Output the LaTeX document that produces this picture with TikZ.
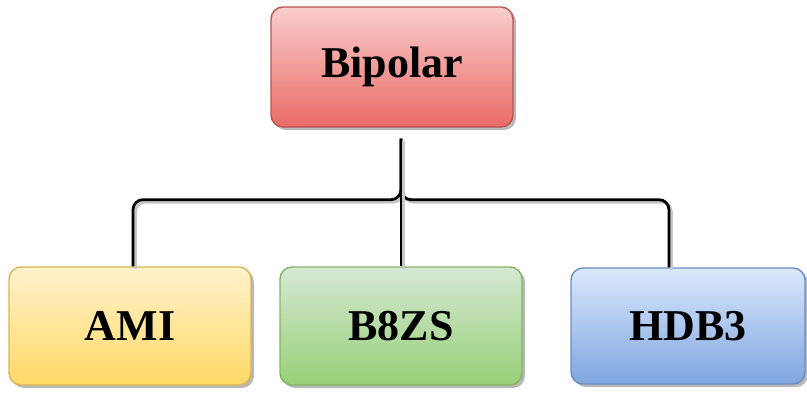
\documentclass[tikz,border=0pt]{standalone}
\usepackage{fontspec}
\setmainfont{Liberation Serif}
\usetikzlibrary{shadows}
\definecolor{redtop}{HTML}{F8CECC}
\definecolor{redbot}{HTML}{EA6B66}
\definecolor{redline}{HTML}{B85450}
\definecolor{yeltop}{HTML}{FFF2CC}
\definecolor{yelbot}{HTML}{FFD966}
\definecolor{yelline}{HTML}{D6B656}
\definecolor{grntop}{HTML}{D5E8D4}
\definecolor{grnbot}{HTML}{97D077}
\definecolor{grnline}{HTML}{82B366}
\definecolor{blutop}{HTML}{DAE8FC}
\definecolor{blubot}{HTML}{7EA6E0}
\definecolor{bluline}{HTML}{6C8EBF}
\tikzset{
 codebox/.style={rounded corners=12pt, line width=1.4pt, inner sep=0pt,
  minimum width=242pt, minimum height=118pt,
  font=\fontsize{44}{50}\selectfont\bfseries,
  drop shadow={shadow xshift=3pt, shadow yshift=-3pt, fill=black!28, opacity=1}},
 edge/.style={line width=2.8pt, rounded corners=10pt,
  preaction={draw=black!22, line width=2.8pt, transform canvas={xshift=2.5pt,yshift=-2.5pt}}}
}
\begin{document}
\begin{tikzpicture}[
 x=1pt,
 y=-1pt
]
\useasboundingbox (0,0) rectangle (807,394);
\node[codebox, draw=redline, top color=redtop, bottom color=redbot, minimum height=120pt] (bip) at (392,67) {Bipolar};
\node[codebox, draw=yelline, top color=yeltop, bottom color=yelbot] (ami) at (130,326) {AMI};
\node[codebox, draw=grnline, top color=grntop, bottom color=grnbot] (b8zs) at (401,326) {B8ZS};
\node[codebox, draw=bluline, top color=blutop, bottom color=blubot, minimum width=234pt, minimum height=116pt] (hdb3) at (688,326) {HDB3};
\draw[edge] ([xshift=9pt,yshift=-11pt]bip.south) -- ++(0,61) -| ([xshift=3pt]ami.north);
\draw[edge] ([xshift=9pt,yshift=-11pt]bip.south) -- ++(0,61) -| ([xshift=-19pt]hdb3.north);
\draw[edge, line width=2.4pt] ([xshift=9pt,yshift=-11pt]bip.south) -- (b8zs.north);
\end{tikzpicture}
\end{document}
